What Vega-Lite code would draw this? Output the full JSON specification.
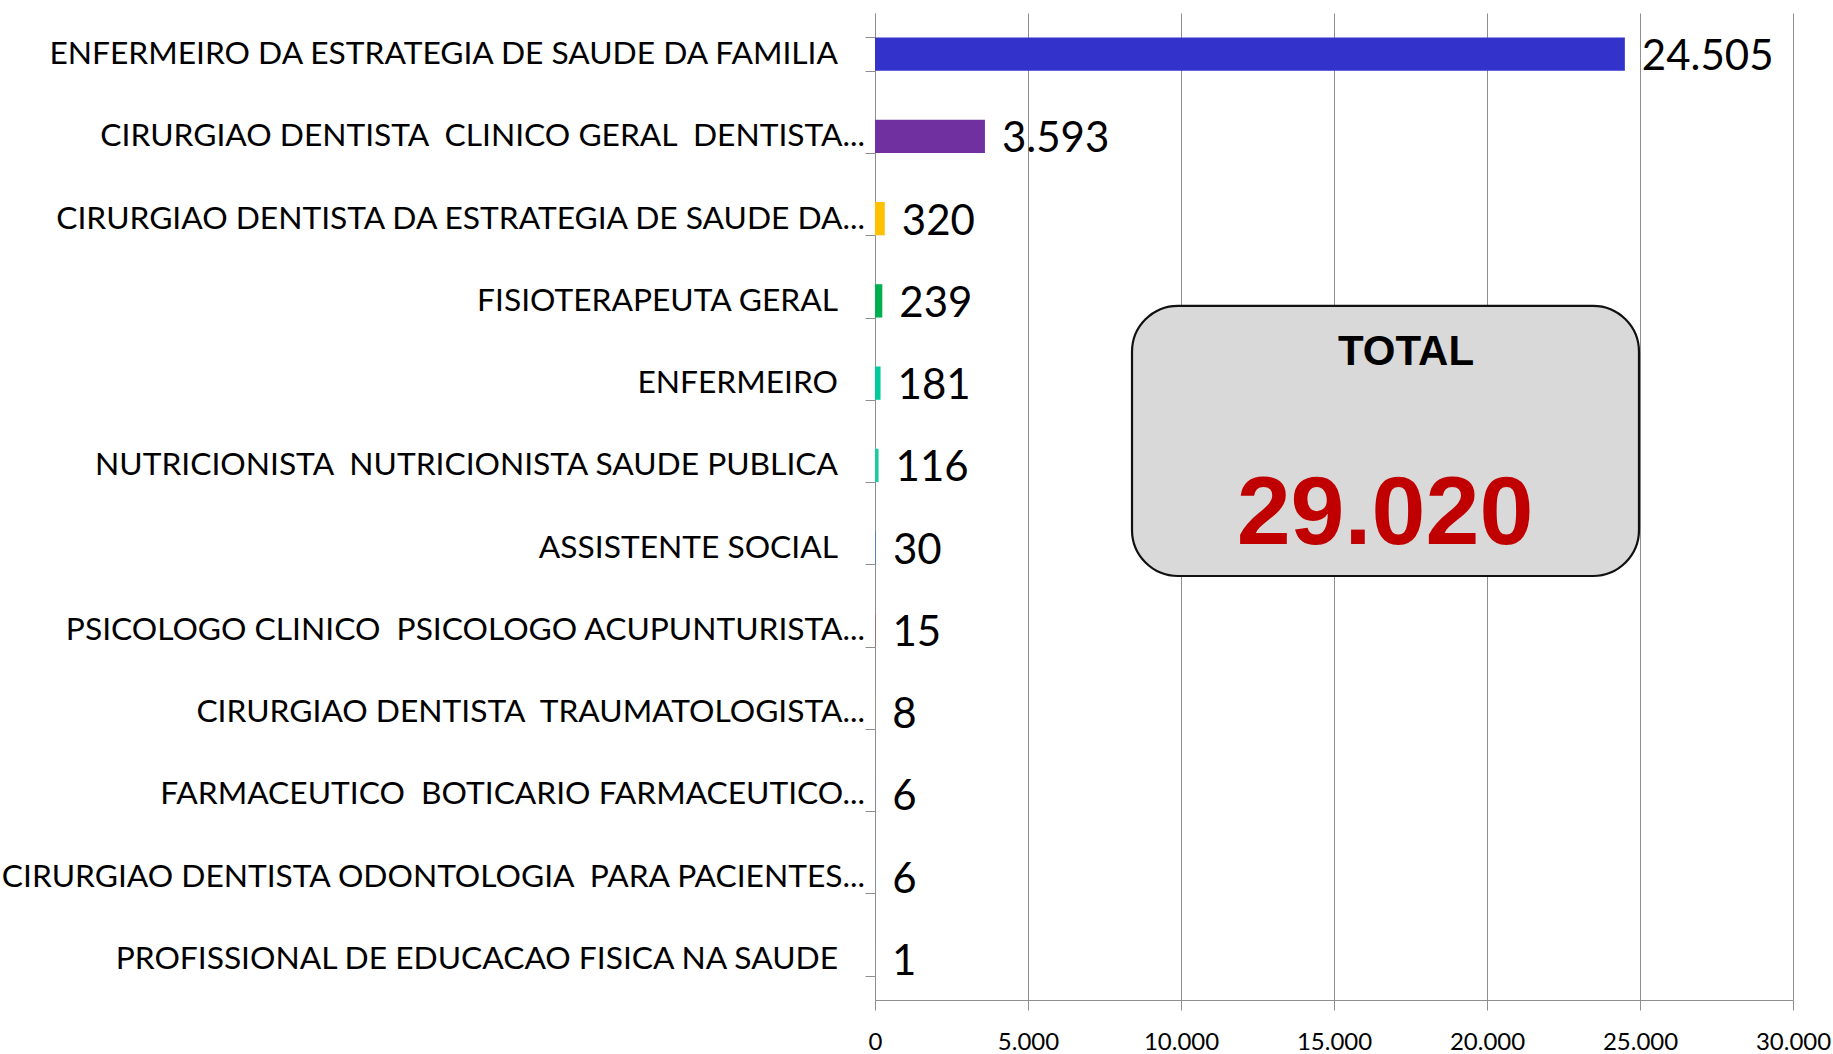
{
  "$schema": "https://vega.github.io/schema/vega-lite/v6.json",
  "width": 918,
  "height": 987,
  "autosize": {"type": "none"},
  "padding": {"left": 875, "top": 13, "right": 40, "bottom": 54},
  "background": "white",
  "config": {
    "view": {"stroke": null},
    "locale": {"number": {"decimal": ",", "thousands": ".", "grouping": [3], "currency": ["R$", ""]}}
  },
  "datasets": {
    "prof": [
      {"categoria": "ENFERMEIRO DA ESTRATEGIA DE SAUDE DA FAMILIA", "total": 24505},
      {"categoria": "CIRURGIAO DENTISTA \u00a0CLINICO GERAL \u00a0DENTISTA...", "total": 3593},
      {"categoria": "CIRURGIAO DENTISTA DA ESTRATEGIA DE SAUDE DA...", "total": 320},
      {"categoria": "FISIOTERAPEUTA GERAL", "total": 239},
      {"categoria": "ENFERMEIRO", "total": 181},
      {"categoria": "NUTRICIONISTA \u00a0NUTRICIONISTA SAUDE PUBLICA", "total": 116},
      {"categoria": "ASSISTENTE SOCIAL", "total": 30},
      {"categoria": "PSICOLOGO CLINICO \u00a0PSICOLOGO ACUPUNTURISTA...", "total": 15},
      {"categoria": "CIRURGIAO DENTISTA \u00a0TRAUMATOLOGISTA...", "total": 8},
      {"categoria": "FARMACEUTICO \u00a0BOTICARIO FARMACEUTICO...", "total": 6},
      {"categoria": "CIRURGIAO DENTISTA ODONTOLOGIA \u00a0PARA PACIENTES...", "total": 6},
      {"categoria": "PROFISSIONAL DE EDUCACAO FISICA NA SAUDE", "total": 1}
    ],
    "caixa": [{"x": 8399, "x2": 24967, "y": 3.56, "y2": 6.845}],
    "rotulo": [{"texto": "TOTAL", "x": 17353, "y": 4.12}],
    "soma": [{"texto": "29.020", "x": 16667, "y": 6.1}]
  },
  "layer": [
    {
      "data": {"name": "prof"},
      "encoding": {
        "y": {
          "field": "categoria", "type": "nominal", "sort": null,
          "scale": {"paddingInner": 0.595, "paddingOuter": 0.2975},
          "axis": {
            "title": null, "tickBand": "extent", "tickSize": 10, "tickColor": "#8E8E8E",
            "domainColor": "#8E8E8E", "labels": false, "grid": false
          }
        }
      },
      "layer": [
        {
          "mark": {"type": "bar"},
          "encoding": {
            "x": {
              "field": "total", "type": "quantitative",
              "scale": {"domain": [0, 30000], "nice": false},
              "axis": {
                "title": null, "values": [0, 5000, 10000, 15000, 20000, 25000, 30000],
                "format": ",d", "tickSize": 10, "tickColor": "#8E8E8E", "domainColor": "#8E8E8E",
                "gridColor": "#8E8E8E", "grid": true, "labelFont": "Lato", "labelFontSize": 24,
                "labelColor": "#000000", "labelPadding": 20, "labelFlush": false
              }
            },
            "color": {
              "field": "categoria", "type": "nominal", "legend": null, "sort": null,
              "scale": {"range": ["#3333CC", "#7030A0", "#FFC000", "#00B050", "#00CC99", "#1BCBA0", "#4F81BD", "#C0504D", "#9BBB59", "#8064A2", "#4BACC6", "#F79646"]}
            }
          }
        },
        {
          "mark": {"type": "text", "align": "left", "baseline": "middle", "dx": 17, "dy": 3, "font": "Lato", "fontSize": 42, "color": "#000000"},
          "encoding": {
            "x": {"field": "total", "type": "quantitative"},
            "text": {"field": "total", "type": "quantitative", "format": ",d"}
          }
        },
        {
          "mark": {"type": "text", "align": "right", "baseline": "middle", "font": "Lato", "fontSize": 31.75, "color": "#000000",
                   "dx": {"expr": "indexof(datum.categoria, '...') >= 0 ? -10 : -37"}},
          "encoding": {
            "x": {"datum": 0, "type": "quantitative"},
            "text": {"field": "categoria"}
          }
        }
      ]
    },
    {
      "layer": [
        {
          "data": {"name": "caixa"},
          "mark": {"type": "rect", "fill": "#D9D9D9", "stroke": "#111111", "strokeWidth": 2.2, "cornerRadius": 46},
          "encoding": {
            "x": {"field": "x", "type": "quantitative"},
            "x2": {"field": "x2"},
            "y": {"field": "y", "type": "quantitative", "scale": {"domain": [0, 12], "reverse": true, "nice": false, "zero": false}, "axis": null},
            "y2": {"field": "y2"}
          }
        },
        {
          "data": {"name": "rotulo"},
          "mark": {"type": "text", "align": "center", "baseline": "middle", "font": "Liberation Sans", "fontWeight": "bold", "fontSize": 42, "color": "#000000"},
          "encoding": {
            "x": {"field": "x", "type": "quantitative"},
            "y": {"field": "y", "type": "quantitative"},
            "text": {"field": "texto"}
          }
        },
        {
          "data": {"name": "soma"},
          "mark": {"type": "text", "align": "center", "baseline": "middle", "font": "Liberation Sans", "fontWeight": "bold", "fontSize": 97, "color": "#C00000"},
          "encoding": {
            "x": {"field": "x", "type": "quantitative"},
            "y": {"field": "y", "type": "quantitative"},
            "text": {"field": "texto"}
          }
        }
      ]
    }
  ],
  "resolve": {"scale": {"y": "independent"}, "axis": {"y": "independent"}}
}
